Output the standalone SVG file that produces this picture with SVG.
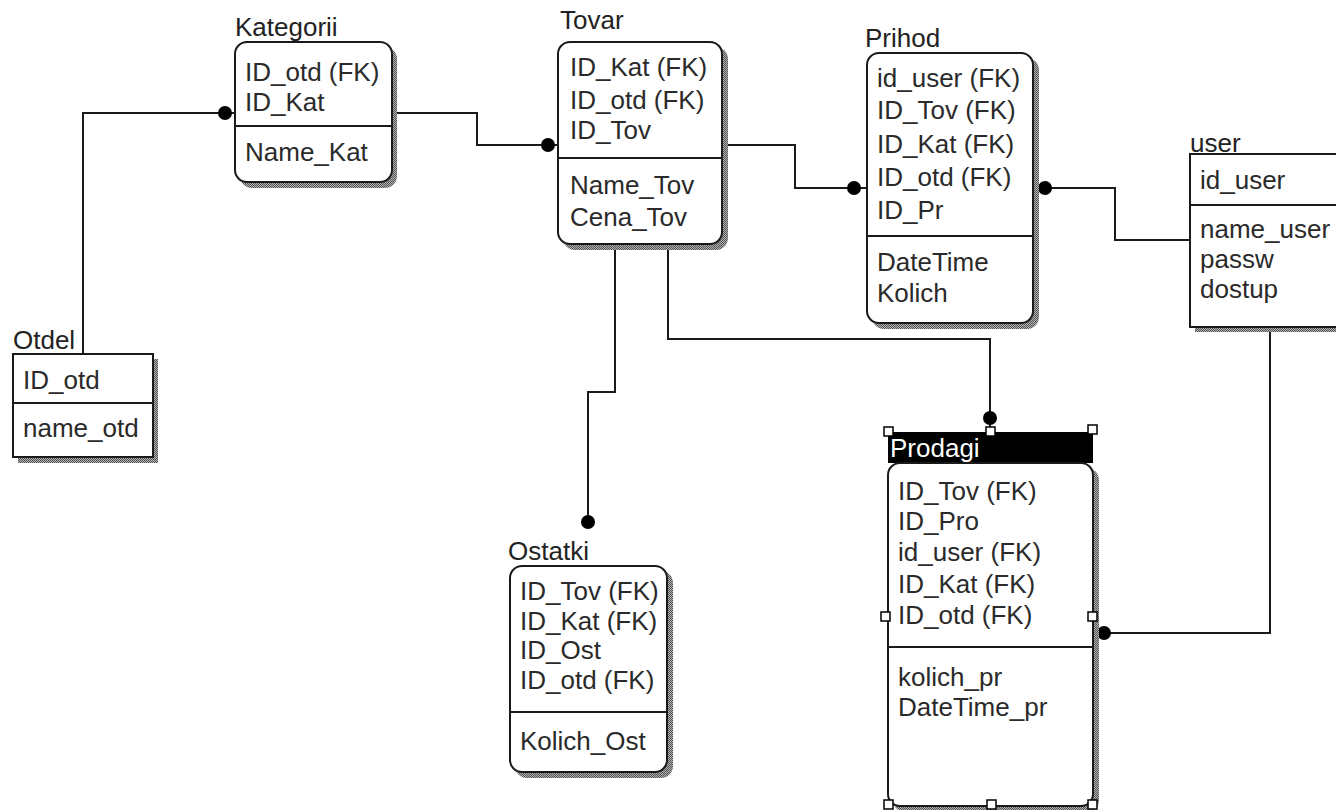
<svg xmlns="http://www.w3.org/2000/svg" width="1336" height="810" viewBox="0 0 1336 810">
<style>
  text { font-family: "Liberation Sans", Arial, sans-serif; font-size: 26px; fill: #2a2a2a; }
  .t { fill: #222; }
  .box { fill: #ffffff; stroke: #1a1a1a; stroke-width: 2; }
  .shadow { fill: url(#dither); }
  .div { stroke: #1a1a1a; stroke-width: 2; }
  .conn { fill: none; stroke: #1a1a1a; stroke-width: 2; }
  .dot { fill: #000; }
  .handle { fill: #fff; stroke: #000; stroke-width: 1.5; }
</style>
<defs>
  <pattern id="dither" width="2" height="2" patternUnits="userSpaceOnUse">
    <rect width="2" height="2" fill="#b0b0b0"/>
    <rect width="1" height="1" fill="#555"/>
    <rect x="1" y="1" width="1" height="1" fill="#555"/>
  </pattern>
</defs>
<rect width="1336" height="810" fill="#fff"/>

<g id="connectors">
  <!-- Otdel -> Kategorii -->
  <polyline class="conn" points="83,354 83,113 235,113"/>
  <circle class="dot" cx="225" cy="113" r="7"/>
  <!-- Kategorii -> Tovar -->
  <polyline class="conn" points="392,113 477,113 477,145 558,145"/>
  <circle class="dot" cx="548" cy="145" r="7"/>
  <!-- Tovar -> Prihod -->
  <polyline class="conn" points="722,145 795,145 795,188 867,188"/>
  <circle class="dot" cx="854" cy="188" r="7"/>
  <!-- user -> Prihod -->
  <polyline class="conn" points="1190,240 1115,240 1115,188 1033,188"/>
  <circle class="dot" cx="1045" cy="188" r="7"/>
  <!-- Tovar -> Ostatki -->
  <polyline class="conn" points="615,246 615,392 588,392 588,522"/>
  <circle class="dot" cx="588" cy="522" r="7"/>
  <!-- Tovar -> Prodagi -->
  <polyline class="conn" points="668,246 668,339 990,339 990,432"/>
  <circle class="dot" cx="990" cy="418" r="7"/>
  <!-- user -> Prodagi -->
  <polyline class="conn" points="1270,327 1270,633 1093,633"/>
  <circle class="dot" cx="1104" cy="633" r="7"/>
</g>

<g id="kategorii">
  <text class="t" x="235" y="36">Kategorii</text>
  <rect class="shadow" x="240" y="47" width="157" height="141" rx="12"/>
  <rect class="box" x="235" y="42" width="157" height="140" rx="12"/>
  <line class="div" x1="235" y1="126" x2="392" y2="126"/>
  <text x="245" y="81">ID_otd (FK)</text>
  <text x="245" y="111">ID_Kat</text>
  <text x="245" y="161">Name_Kat</text>
</g>

<g id="tovar">
  <text class="t" x="560" y="29">Tovar</text>
  <rect class="shadow" x="563" y="47" width="165" height="203" rx="12"/>
  <rect class="box" x="558" y="42" width="164" height="202" rx="12"/>
  <line class="div" x1="558" y1="158" x2="722" y2="158"/>
  <text x="570" y="76">ID_Kat (FK)</text>
  <text x="570" y="109">ID_otd (FK)</text>
  <text x="570" y="139">ID_Tov</text>
  <text x="570" y="194">Name_Tov</text>
  <text x="570" y="226">Cena_Tov</text>
</g>

<g id="prihod">
  <text class="t" x="865" y="47">Prihod</text>
  <rect class="shadow" x="872" y="58" width="167" height="271" rx="12"/>
  <rect class="box" x="867" y="53" width="166" height="270" rx="12"/>
  <line class="div" x1="867" y1="236" x2="1033" y2="236"/>
  <text x="877" y="87">id_user (FK)</text>
  <text x="877" y="119">ID_Tov (FK)</text>
  <text x="877" y="153">ID_Kat (FK)</text>
  <text x="877" y="186">ID_otd (FK)</text>
  <text x="877" y="219">ID_Pr</text>
  <text x="877" y="271">DateTime</text>
  <text x="877" y="302">Kolich</text>
</g>

<g id="user">
  <text class="t" x="1190" y="152">user</text>
  <rect class="shadow" x="1195" y="159" width="160" height="173"/>
  <rect class="box" x="1190" y="154" width="160" height="173"/>
  <line class="div" x1="1190" y1="205" x2="1350" y2="205"/>
  <text x="1200" y="189">id_user</text>
  <text x="1200" y="238">name_user</text>
  <text x="1200" y="268">passw</text>
  <text x="1200" y="298">dostup</text>
</g>

<g id="otdel">
  <text class="t" x="13" y="349">Otdel</text>
  <rect class="shadow" x="18" y="359" width="140" height="104"/>
  <rect class="box" x="13" y="354" width="140" height="103"/>
  <line class="div" x1="13" y1="403" x2="153" y2="403"/>
  <text x="23" y="389">ID_otd</text>
  <text x="23" y="437">name_otd</text>
</g>

<g id="ostatki">
  <text class="t" x="508" y="560">Ostatki</text>
  <rect class="shadow" x="515" y="571" width="158" height="207" rx="12"/>
  <rect class="box" x="510" y="566" width="157" height="206" rx="12"/>
  <line class="div" x1="510" y1="712" x2="667" y2="712"/>
  <text x="520" y="600">ID_Tov (FK)</text>
  <text x="520" y="630">ID_Kat (FK)</text>
  <text x="520" y="659">ID_Ost</text>
  <text x="520" y="689">ID_otd (FK)</text>
  <text x="520" y="750">Kolich_Ost</text>
</g>

<g id="prodagi">
  <rect x="888" y="432" width="205" height="31" fill="#000"/>
  <text x="890" y="457" fill="#fff" style="fill:#fff">Prodagi</text>
  <rect class="shadow" x="893" y="468" width="206" height="344" rx="12"/>
  <rect class="box" x="888" y="463" width="205" height="343" rx="12"/>
  <line class="div" x1="888" y1="647" x2="1093" y2="647"/>
  <text x="898" y="500">ID_Tov (FK)</text>
  <text x="898" y="530">ID_Pro</text>
  <text x="898" y="561">id_user (FK)</text>
  <text x="898" y="593">ID_Kat (FK)</text>
  <text x="898" y="624">ID_otd (FK)</text>
  <text x="898" y="686">kolich_pr</text>
  <text x="898" y="716">DateTime_pr</text>
  <rect class="handle" x="884" y="427" width="9" height="9"/>
  <rect class="handle" x="986" y="427" width="9" height="9"/>
  <rect class="handle" x="1088" y="425" width="9" height="9"/>
  <rect class="handle" x="881" y="612" width="9" height="9"/>
  <rect class="handle" x="1088" y="612" width="9" height="9"/>
  <rect class="handle" x="884" y="800" width="9" height="9"/>
  <rect class="handle" x="987" y="800" width="9" height="9"/>
  <rect class="handle" x="1088" y="800" width="9" height="9"/>
</g>
</svg>
